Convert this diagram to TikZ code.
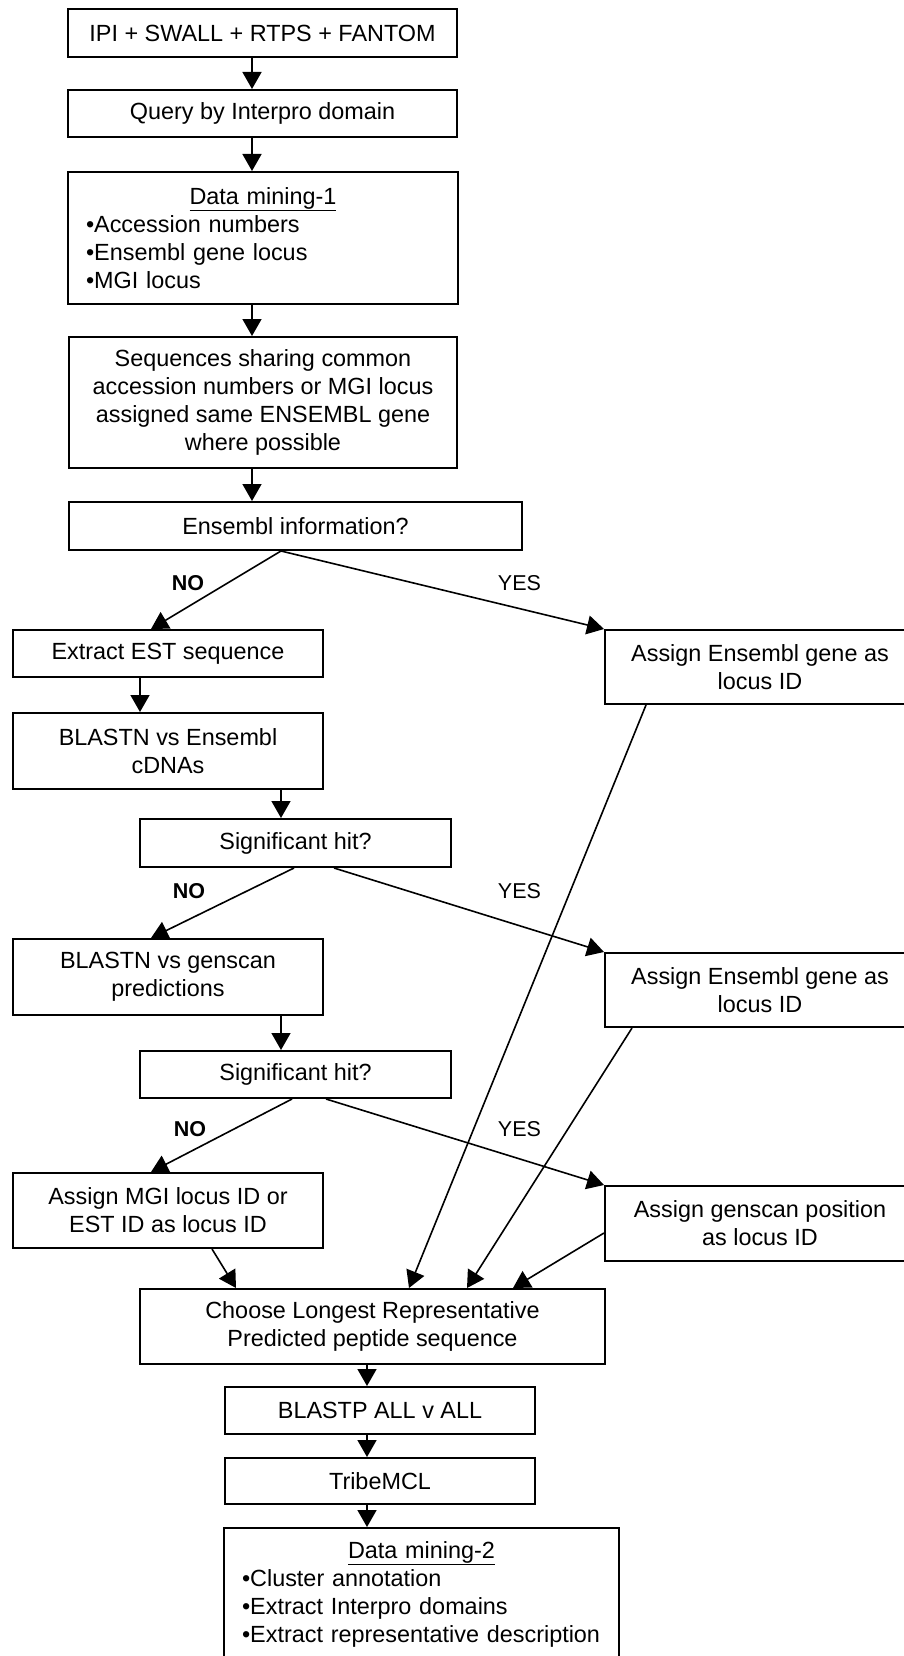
\documentclass[tikz,border=0pt]{standalone}
\usepackage{fontspec}
\setmainfont{Liberation Sans}
\usetikzlibrary{arrows.meta}
\begin{document}
\begin{tikzpicture}[x=1pt,y=-1pt,
  box/.style={draw, line width=2pt, inner sep=0pt, align=center,
    font=\fontsize{23.4}{28}\selectfont},
  dmbox/.style={draw, line width=2pt, inner xsep=18pt, inner ysep=0pt, align=left,
    font=\fontsize{23.4}{28}\selectfont},
  arr/.style={line width=1.6pt, -{Triangle[length=17pt,width=19pt]}},
  lbl/.style={inner sep=0pt, font=\fontsize{21.5}{24}\selectfont}]
\useasboundingbox (0,0) rectangle (904,1656);
\clip (0,0) rectangle (904,1656);
\fill[white] (0,0) rectangle (904,1656);

\node[box, minimum width=389pt, minimum height=48pt] (src) at (262.5,33) {IPI + SWALL + RTPS + FANTOM};
\node[box, minimum width=389pt, minimum height=47pt] (query) at (262.5,113.5) {Query by Interpro domain};
\node[dmbox, text width=354pt, minimum height=132pt] (dm1) at (263,238)
  {\makebox[\linewidth]{\underline{Data mining-1}}\\•Accession numbers\\•Ensembl gene locus\\•MGI locus};
\node[box, minimum width=388pt, minimum height=131pt] (seq) at (263,402.5)
  {Sequences sharing common\\accession numbers or MGI locus\\assigned same ENSEMBL gene\\where possible};
\node[box, minimum width=453pt, minimum height=48pt] (ens) at (295.5,526) {Ensembl information?};
\node[box, minimum width=310pt, minimum height=47pt] (est) at (168,653.5) {Extract EST sequence};
\node[box, minimum width=310pt, minimum height=74pt] (ag1) at (760,667) {Assign Ensembl gene as\\locus ID};
\node[box, minimum width=310pt, minimum height=76pt] (bl1) at (168,751) {BLASTN vs Ensembl\\cDNAs};
\node[box, minimum width=311pt, minimum height=48pt] (sig1) at (295.5,843) {Significant hit?};
\node[box, minimum width=310pt, minimum height=76pt] (bg) at (168,977) {BLASTN vs genscan\\predictions};
\node[box, minimum width=310pt, minimum height=74pt] (ag2) at (760,990) {Assign Ensembl gene as\\locus ID};
\node[box, minimum width=311pt, minimum height=47pt] (sig2) at (295.5,1074.5) {Significant hit?};
\node[box, minimum width=310pt, minimum height=75pt] (mgi) at (168,1210.5) {Assign MGI locus ID or\\EST ID as locus ID};
\node[box, minimum width=310pt, minimum height=75pt] (gp) at (760,1223.5) {Assign genscan position\\as locus ID};
\node[box, minimum width=465pt, minimum height=75pt] (choose) at (372.5,1326.5) {Choose Longest Representative\\Predicted peptide sequence};
\node[box, minimum width=310pt, minimum height=47pt] (blastp) at (380,1410.5) {BLASTP ALL v ALL};
\node[box, minimum width=310pt, minimum height=46pt] (tribe) at (380,1481) {TribeMCL};
\node[dmbox, text width=359pt, minimum height=132pt] (dm2) at (421.5,1594)
  {\makebox[\linewidth]{\underline{Data mining-2}}\\•Cluster annotation\\•Extract Interpro domains\\•Extract representative description};

\coordinate (c1) at (252,0);
\coordinate (c3) at (367,0);
\coordinate (c4) at (140,0);
\coordinate (c5) at (281,0);

\draw[arr] (src.south -| c1) -- (query.north -| c1);
\draw[arr] (query.south -| c1) -- (dm1.north -| c1);
\draw[arr] (dm1.south -| c1) -- (seq.north -| c1);
\draw[arr] (seq.south -| c1) -- (ens.north -| c1);
\draw[arr] (est.south -| c4) -- (bl1.north -| c4);
\draw[arr] (bl1.south -| c5) -- (sig1.north -| c5);
\draw[arr] (bg.south -| c5) -- (sig2.north -| c5);
\draw[arr] (choose.south -| c3) -- (blastp.north -| c3);
\draw[arr] (blastp.south -| c3) -- (tribe.north -| c3);
\draw[arr] (tribe.south -| c3) -- (dm2.north -| c3);

\draw[arr] ([xshift=-14.5pt]ens.south) -- ([xshift=-17pt]est.north);
\draw[arr] ([xshift=-14.5pt]ens.south) -- (ag1.north west);
\draw[arr] ([xshift=-1.5pt]sig1.south) -- ([xshift=-17pt]bg.north);
\draw[arr] ([xshift=38.5pt]sig1.south) -- (ag2.north west);
\draw[arr] ([xshift=-3.5pt]sig2.south) -- ([xshift=-17pt]mgi.north);
\draw[arr] ([xshift=30.5pt]sig2.south) -- (gp.north west);

\draw[arr] ([xshift=-114pt]ag1.south) -- ([xshift=36.5pt]choose.north);
\draw[arr] ([xshift=-128pt]ag2.south) -- ([xshift=94.5pt]choose.north);
\draw[arr] ([xshift=44pt]mgi.south) -- ([xshift=-136.5pt]choose.north);
\draw[arr] ([yshift=-9.5pt]gp.west) -- ([xshift=140.5pt]choose.north);

\node[lbl, font=\fontsize{21.5}{24}\selectfont\bfseries] (no1) at (188,583) {NO};
\node[lbl] (yes1) at (519.5,583) {YES};
\node[lbl, font=\fontsize{21.5}{24}\selectfont\bfseries] (no2) at (189,891) {NO};
\node[lbl] (yes2) at (519.5,891) {YES};
\node[lbl, font=\fontsize{21.5}{24}\selectfont\bfseries] (no3) at (190,1129) {NO};
\node[lbl] (yes3) at (519.5,1129) {YES};
\end{tikzpicture}
\end{document}
